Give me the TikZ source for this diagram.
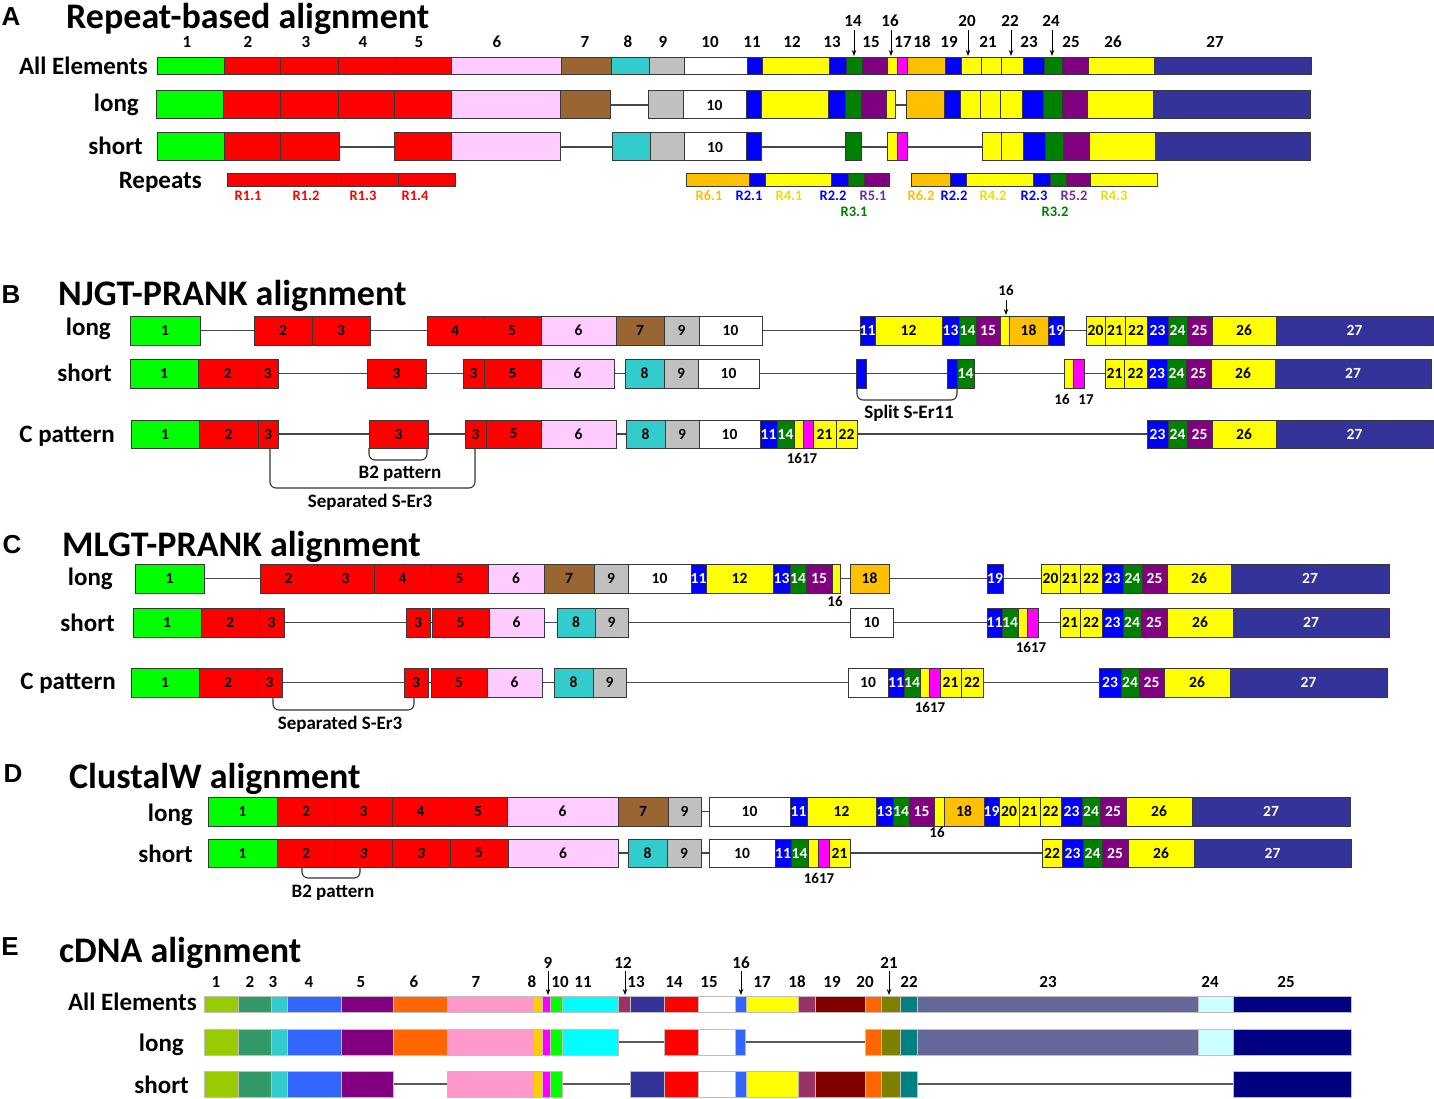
\documentclass[tikz,border=0pt]{standalone}
\usepackage{fontspec}
\setmainfont{Carlito}
\newfontfamily\letterfont{Liberation Sans}
\usetikzlibrary{arrows.meta}
\definecolor{cgreen}{HTML}{00FF00}
\definecolor{cred}{HTML}{FF0000}
\definecolor{cpink}{HTML}{FFCCFF}
\definecolor{cbrown}{HTML}{996633}
\definecolor{ccyan}{HTML}{33CCCC}
\definecolor{cgray}{HTML}{C0C0C0}
\definecolor{cblue}{HTML}{0000FF}
\definecolor{cyel}{HTML}{FFFF00}
\definecolor{cdg}{HTML}{008000}
\definecolor{cpur}{HTML}{800080}
\definecolor{cmag}{HTML}{FF00FF}
\definecolor{corg}{HTML}{FFC000}
\definecolor{cnavy}{HTML}{333399}
\definecolor{rorg}{HTML}{FFC000}
\definecolor{ryel}{HTML}{EEDD00}
\definecolor{rpur}{HTML}{7030A0}
\definecolor{eA}{HTML}{99CC00}
\definecolor{eB}{HTML}{339966}
\definecolor{eC}{HTML}{33CCCC}
\definecolor{eD}{HTML}{3366FF}
\definecolor{eE}{HTML}{800080}
\definecolor{eF}{HTML}{FF6600}
\definecolor{eG}{HTML}{FF99CC}
\definecolor{eH}{HTML}{FFCC00}
\definecolor{eI}{HTML}{FF00FF}
\definecolor{eJ}{HTML}{00FF00}
\definecolor{eK}{HTML}{00FFFF}
\definecolor{eL}{HTML}{993366}
\definecolor{eM}{HTML}{333399}
\definecolor{eN}{HTML}{FF0000}
\definecolor{eO}{HTML}{FFFFFF}
\definecolor{eP}{HTML}{3366FF}
\definecolor{eQ}{HTML}{FFFF00}
\definecolor{eR}{HTML}{993366}
\definecolor{eS}{HTML}{800000}
\definecolor{eT}{HTML}{FF6600}
\definecolor{eU}{HTML}{808000}
\definecolor{eV}{HTML}{008080}
\definecolor{eW}{HTML}{666699}
\definecolor{eX}{HTML}{CCFFFF}
\definecolor{eY}{HTML}{000080}
\tikzset{
  seg/.style={draw=black!78, line width=1pt},
  eseg/.style={draw=black!25, line width=0.7pt},
  conn/.style={draw=black!72, line width=1.1pt},
  econn/.style={draw=black!65, line width=1.8pt},
  lab/.style={font=\fontsize{15.5}{15.5}\selectfont\bfseries, inner sep=0pt},
  title/.style={font=\fontsize{36}{36}\selectfont\bfseries, inner sep=0pt, anchor=base west},
  rowlab/.style={font=\fontsize{25}{25}\selectfont\bfseries, inner sep=0pt, anchor=base east},
  num/.style={font=\fontsize{17}{17}\selectfont\bfseries, inner sep=0pt, anchor=base},
  rlab/.style={font=\fontsize{14.5}{14.5}\selectfont\bfseries, inner sep=0pt, anchor=base},
  slab/.style={font=\fontsize{15}{15}\selectfont\bfseries, inner sep=0pt, anchor=base},
  blab/.style={font=\fontsize{19}{19}\selectfont\bfseries, inner sep=0pt, anchor=base},
  plet/.style={font=\fontsize{26}{26}\selectfont\letterfont\bfseries, inner sep=0pt},
  brk/.style={draw=black!80, line width=1.1pt, rounded corners=6pt},
  darr/.style={draw=black, line width=0.9pt, -{Stealth[length=6pt,width=4.5pt]}}
}
\newcommand\segrow[4]{%
  \foreach \xa/\xb/\cc/\ll/\tc in {#4}{%
    \path[#3, fill=\cc] ({\xa},{#1-#2}) rectangle ({\xb},{#1+#2});
    \node[lab, text=\tc] at ({(\xa+\xb)/2},{#1}) {\ll};
  }}
\newcommand\cn[3]{\draw[conn] ({#1},{#3}) -- ({#2},{#3});}
\newcommand\ecn[3]{\draw[econn] ({#1},{#3}) -- ({#2},{#3});}
\begin{document}
\begin{tikzpicture}[x=1pt,y=-1pt]
\useasboundingbox (0,0) rectangle (1434,1099);
\fill[white] (0,0) rectangle (1434,1099);

% ================= A =================
\node[plet] (letA) at (11,17) {A};
\node[title] (titA) at (66,29) {Repeat-based alignment};
\foreach \t/\x in {1/187,2/248,3/306,4/363,5/419,6/497,7/585,8/628,9/663,10/710,11/752,12/792,13/832,15/871,17/903,18/922,19/949,21/988,23/1029,25/1071,26/1113,27/1215}
  \node[num] at (\x,48) {\t};
\foreach \t/\x in {14/853,16/890,20/967,22/1010,24/1051}{
  \node[num] at (\x,27) {\t};
  \draw[darr] (\x+1,30) -- (\x+1,56);
}
\node[rowlab] (aAll) at (148,75) {All Elements};
\node[rowlab] (aLong) at (139,112) {long};
\node[rowlab] (aShort) at (143,155) {short};
\node[rowlab] (aRep) at (202,189) {Repeats};

\segrow{66.5}{8.5}{seg}{157/224/cgreen//black, 224/280/cred//black, 280/338/cred//black, 338/395/cred//black, 395/451/cred//black, 451/561/cpink//black, 561/611/cbrown//black, 611/649/ccyan//black, 649/684/cgray//black, 684/747/white//black, 747/762/cblue//black, 762/829/cyel//black, 829/846/cblue//black, 846/862/cdg//black, 862/887/cpur//black, 887/897/cyel//black, 897/907/cmag//black, 907/945/corg//black, 945/961/cblue//black, 961/981/cyel//black, 981/1001/cyel//black, 1001/1023/cyel//black, 1023/1044/cblue//black, 1044/1062/cdg//black, 1062/1088/cpur//black, 1088/1154/cyel//black, 1154/1311/cnavy//black}

\cn{610}{648}{105}\cn{895}{906}{105}
\segrow{105}{14}{seg}{156/223/cgreen//black, 223/280/cred//black, 280/338/cred//black, 338/394/cred//black, 394/451/cred//black, 451/560/cpink//black, 560/610/cbrown//black, 648/683/cgray//black, 683/746/white/10/black, 746/761/cblue//black, 761/828/cyel//black, 828/845/cblue//black, 845/861/cdg//black, 861/886/cpur//black, 886/895/cyel//black, 906/944/corg//black, 944/960/cblue//black, 960/980/cyel//black, 980/1000/cyel//black, 1000/1022/cyel//black, 1022/1043/cblue//black, 1043/1062/cdg//black, 1062/1087/cpur//black, 1087/1153/cyel//black, 1153/1310/cnavy//black}

\cn{339}{394}{147}\cn{560}{612}{147}\cn{761}{845}{147}\cn{861}{887}{147}\cn{907}{982}{147}
\segrow{147}{14}{seg}{157/224/cgreen//black, 224/280/cred//black, 280/339/cred//black, 394/451/cred//black, 451/560/cpink//black, 612/650/ccyan//black, 650/684/cgray//black, 684/746/white/10/black, 746/761/cblue//black, 845/861/cdg//black, 887/897/cyel//black, 897/907/cmag//black, 982/1001/cyel//black, 1001/1023/cyel//black, 1023/1045/cblue//black, 1045/1063/cdg//black, 1063/1089/cpur//black, 1089/1155/cyel//black, 1155/1310/cnavy//black}

\segrow{180.5}{6.5}{seg}{227/283/cred//black, 283/341/cred//black, 341/398/cred//black, 398/455/cred//black, 686/749/corg//black, 749/765/cblue//black, 765/831/cyel//black, 831/848/cblue//black, 848/864/cdg//black, 864/889/cpur//black, 911/950/corg//black, 950/966/cblue//black, 966/1033/cyel//black, 1033/1050/cblue//black, 1050/1066/cdg//black, 1066/1090/cpur//black, 1090/1157/cyel//black}
\foreach \t/\x/\c in {R1.1/248/cred, R1.2/306/cred, R1.3/363/cred, R1.4/415/cred, R6.1/709/rorg, R2.1/749/cblue, R4.1/789/ryel, R2.2/833/cblue, R5.1/873/rpur, R6.2/921/rorg, R2.2/954/cblue, R4.2/993/ryel, R2.3/1034/cblue, R5.2/1074/rpur, R4.3/1114/ryel}
  \node[rlab, text=\c] at (\x,201) {\t};
\node[rlab, text=cdg] at (854,217) {R3.1};
\node[rlab, text=cdg] at (1055,217) {R3.2};

% ================= B =================
\node[plet] (letB) at (11,295) {B};
\node[title] (titB) at (58,305) {NJGT-PRANK alignment};
\node[rowlab] (bLong) at (111,335) {long};
\node[rowlab] (bShort) at (112,381) {short};
\node[rowlab] (bC) at (115,442) {C pattern};

\cn{200}{254}{330.5}\cn{370}{427}{330.5}\cn{762}{860}{330.5}\cn{1064}{1086}{330.5}
\segrow{330.5}{14.5}{seg}{130/200/cgreen/1/black, 254/312/cred/2/black, 312/370/cred/3/black, 427/483/cred/4/black, 483/541/cred/5/black, 541/616/cpink/6/black, 616/664/cbrown/7/black, 664/699/cgray/9/black, 699/762/white/10/black, 860/875/cblue/11/white, 875/942/cyel/12/black, 942/959/cblue/13/white, 959/976/cdg/14/white, 976/1000/cpur/15/white, 1000/1009/cyel//black, 1009/1048/corg/18/black, 1048/1064/cblue/19/white, 1086/1105/cyel/20/black, 1105/1125/cyel/21/black, 1125/1147/cyel/22/black, 1147/1168/cblue/23/white, 1168/1187/cdg/24/white, 1187/1212/cpur/25/white, 1212/1276/cyel/26/black, 1276/1433/cnavy/27/white}
\node[slab] at (1006,295) {16};
\draw[darr] (1006,300) -- (1006,315);

\cn{278}{367}{373.5}\cn{426}{463}{373.5}\cn{614}{625}{373.5}\cn{759}{856}{373.5}\cn{866}{947}{373.5}\cn{974}{1064}{373.5}\cn{1084}{1105}{373.5}
\segrow{373.5}{14.5}{seg}{130/198/cgreen/1/black, 198/257/cred/2/black, 257/278/cred/3/black, 367/426/cred/3/black, 463/484/cred/3/black, 484/541/cred/5/black, 541/614/cpink/6/black, 625/664/ccyan/8/black, 664/698/cgray/9/black, 698/759/white/10/black, 856/866/cblue//black, 947/957/cblue//black, 957/974/cdg/14/white, 1064/1073/cyel//black, 1073/1084/cmag//black, 1105/1124/cyel/21/black, 1124/1147/cyel/22/black, 1147/1167/cblue/23/white, 1167/1186/cdg/24/white, 1186/1211/cpur/25/white, 1211/1275/cyel/26/black, 1275/1431/cnavy/27/white}
\node[slab] at (1062,404) {16};
\node[slab] at (1086,404) {17};
\draw[brk] (857,388) -- (857,400) -- (957,400) -- (957,388);
\node[blab] at (909,418) {Split S-Er11};

\cn{278}{369}{434}\cn{428}{465}{434}\cn{616}{626}{434}\cn{857}{1147}{434}
\segrow{434}{14}{seg}{131/199/cgreen/1/black, 199/258/cred/2/black, 258/278/cred/3/black, 369/428/cred/3/black, 465/486/cred/3/black, 486/541/cred/5/black, 541/616/cpink/6/black, 626/665/ccyan/8/black, 665/699/cgray/9/black, 699/760/white/10/black, 760/777/cblue/11/white, 777/794/cdg/14/white, 794/803/cyel//black, 803/813/cmag//black, 813/836/cyel/21/black, 836/857/cyel/22/black, 1147/1168/cblue/23/white, 1168/1187/cdg/24/white, 1187/1212/cpur/25/white, 1212/1276/cyel/26/black, 1276/1433/cnavy/27/white}
\node[slab] at (802,463) {1617};
\draw[brk] (369,448) -- (369,460) -- (427,460) -- (427,448);
\node[blab] at (400,478) {B2 pattern};
\draw[brk] (270,448) -- (270,488) -- (475,488) -- (475,448);
\node[blab] at (370,507) {Separated S-Er3};

% ================= C =================
\node[plet] (letC) at (12,545) {C};
\node[title] (titC) at (62,556) {MLGT-PRANK alignment};
\node[rowlab] (cLong) at (113,585) {long};
\node[rowlab] (cShort) at (115,631) {short};
\node[rowlab] (cC) at (116,689) {C pattern};

\cn{204}{260}{578.5}\cn{840}{850}{578.5}\cn{889}{987}{578.5}\cn{1003}{1041}{578.5}
\segrow{578.5}{14.5}{seg}{135/204/cgreen/1/black, 260/317/cred/2/black, 317/374/cred/3/black, 374/431/cred/4/black, 431/488/cred/5/black, 488/544/cpink/6/black, 544/594/cbrown/7/black, 594/628/cgray/9/black, 628/691/white/10/black, 691/706/cblue/11/white, 706/773/cyel/12/black, 773/790/cblue/13/white, 790/806/cdg/14/white, 806/832/cpur/15/white, 832/840/cyel//black, 850/889/corg/18/black, 987/1003/cblue/19/white, 1041/1060/cyel/20/black, 1060/1080/cyel/21/black, 1080/1102/cyel/22/black, 1102/1123/cblue/23/white, 1123/1142/cdg/24/white, 1142/1167/cpur/25/white, 1167/1231/cyel/26/black, 1231/1389/cnavy/27/white}
\node[slab] at (835,606) {16};

\cn{284}{406}{622.5}\cn{430}{432}{622.5}\cn{544}{557}{622.5}\cn{628}{850}{622.5}\cn{893}{987}{622.5}\cn{1038}{1060}{622.5}
\segrow{622.5}{14.5}{seg}{133/201/cgreen/1/black, 201/259/cred/2/black, 259/284/cred/3/black, 406/430/cred/3/black, 432/489/cred/5/black, 489/544/cpink/6/black, 557/595/ccyan/8/black, 595/628/cgray/9/black, 850/893/white/10/black, 987/1002/cblue/11/white, 1002/1018/cdg/14/white, 1018/1027/cyel//black, 1027/1038/cmag//black, 1060/1080/cyel/21/black, 1080/1102/cyel/22/black, 1102/1123/cblue/23/white, 1123/1141/cdg/24/white, 1141/1167/cpur/25/white, 1167/1233/cyel/26/black, 1233/1389/cnavy/27/white}
\node[slab] at (1031,652) {1617};

\cn{282}{404}{682.5}\cn{428}{431}{682.5}\cn{542}{554}{682.5}\cn{626}{848}{682.5}\cn{983}{1099}{682.5}
\segrow{682.5}{14.5}{seg}{131/199/cgreen/1/black, 199/257/cred/2/black, 257/282/cred/3/black, 404/428/cred/3/black, 431/487/cred/5/black, 487/542/cpink/6/black, 554/593/ccyan/8/black, 593/626/cgray/9/black, 848/888/white/10/black, 888/904/cblue/11/white, 904/920/cdg/14/white, 920/929/cyel//black, 929/940/cmag//black, 940/961/cyel/21/black, 961/983/cyel/22/black, 1099/1121/cblue/23/white, 1121/1139/cdg/24/white, 1139/1164/cpur/25/white, 1164/1230/cyel/26/black, 1230/1387/cnavy/27/white}
\node[slab] at (930,712) {1617};
\draw[brk] (273,697) -- (273,710) -- (414,710) -- (414,697);
\node[blab] at (340,729) {Separated S-Er3};

% ================= D =================
\node[plet] (letD) at (13,774) {D};
\node[title] (titD) at (69,788) {ClustalW alignment};
\node[rowlab] (dLong) at (193,821) {long};
\node[rowlab] (dShort) at (193,862) {short};

\cn{701}{709}{811.5}
\segrow{811.5}{14.5}{seg}{208/277/cgreen/1/black, 277/335/cred/2/black, 335/392/cred/3/black, 392/449/cred/4/black, 449/507/cred/5/black, 507/618/cpink/6/black, 618/668/cbrown/7/black, 668/701/cgray/9/black, 709/790/white/10/black, 790/807/cblue/11/white, 807/876/cyel/12/black, 876/893/cblue/13/white, 893/909/cdg/14/white, 909/934/cpur/15/white, 934/944/cyel//black, 944/984/corg/18/black, 984/999/cblue/19/white, 999/1019/cyel/20/black, 1019/1040/cyel/21/black, 1040/1061/cyel/22/black, 1061/1082/cblue/23/white, 1082/1100/cdg/24/white, 1100/1126/cpur/25/white, 1126/1192/cyel/26/black, 1192/1350/cnavy/27/white}
\node[slab] at (937,837) {16};

\cn{618}{628}{853}\cn{701}{709}{853}\cn{850}{1042}{853}
\segrow{853}{14}{seg}{208/277/cgreen/1/black, 277/335/cred/2/black, 335/392/cred/{\itshape 3}/black, 392/450/cred/{\itshape 3}/black, 450/508/cred/5/black, 508/618/cpink/6/black, 628/667/ccyan/8/black, 667/701/cgray/9/black, 709/775/white/10/black, 775/791/cblue/11/white, 791/808/cdg/14/white, 808/818/cyel//black, 818/829/cmag//black, 829/850/cyel/21/black, 1042/1062/cyel/22/black, 1062/1083/cblue/23/white, 1083/1102/cdg/24/white, 1102/1128/cpur/25/white, 1128/1194/cyel/26/black, 1194/1351/cnavy/27/white}
\node[slab] at (819,883) {1617};
\draw[brk] (302,867) -- (302,878) -- (360,878) -- (360,867);
\node[blab] at (333,897) {B2 pattern};

% ================= E =================
\node[plet] (letE) at (10,947) {E};
\node[title] (titE) at (59,962) {cDNA alignment};
\foreach \t/\x in {1/216,2/250,3/273,4/309,5/361,6/414,7/476,8/532,10/560,11/583,13/636,14/674,15/709,17/762,18/797,19/832,20/865,22/909,23/1048,24/1210,25/1286}
  \node[num] at (\x,987) {\t};
\foreach \t/\x/\ax in {9/548/548,12/623/625,16/741/741,21/889/889}{
  \node[num] at (\x,968) {\t};
  \draw[darr] (\ax,971) -- (\ax,995);
}
\node[rowlab] (eAll) at (197,1010) {All Elements};
\node[rowlab] (eLong) at (184,1051) {long};
\node[rowlab] (eShort) at (189,1093) {short};

\segrow{1004}{8}{eseg}{204/238/eA//black, 238/271/eB//black, 271/287/eC//black, 287/341/eD//black, 341/393/eE//black, 393/447/eF//black, 447/533/eG//black, 533/542/eH//black, 542/550/eI//black, 550/562/eJ//black, 562/618/eK//black, 618/630/eL//black, 630/664/eM//black, 664/698/eN//black, 698/735/eO//black, 735/746/eP//black, 746/798/eQ//black, 798/815/eR//black, 815/865/eS//black, 865/881/eT//black, 881/900/eU//black, 900/917/eV//black, 917/1198/eW//black, 1198/1233/eX//black, 1233/1351/eY//black}

\ecn{618}{664}{1042}\ecn{745}{865}{1042}
\segrow{1042}{13}{eseg}{204/238/eA//black, 238/271/eB//black, 271/287/eC//black, 287/341/eD//black, 341/393/eE//black, 393/447/eF//black, 447/533/eG//black, 533/542/eH//black, 542/550/eI//black, 550/562/eJ//black, 562/618/eK//black, 664/698/eN//black, 698/735/eO//black, 735/745/eP//black, 865/881/eT//black, 881/900/eU//black, 900/917/eV//black, 917/1198/eW//black, 1198/1233/eX//black, 1233/1351/eY//black}

\ecn{393}{447}{1084}\ecn{562}{630}{1084}\ecn{917}{1233}{1084}
\segrow{1084}{13}{eseg}{204/238/eA//black, 238/271/eB//black, 271/287/eC//black, 287/341/eD//black, 341/393/eE//black, 447/533/eG//black, 533/542/eH//black, 542/550/eI//black, 550/562/eJ//black, 630/664/eM//black, 664/698/eN//black, 698/735/eO//black, 735/746/eP//black, 746/798/eQ//black, 798/815/eR//black, 815/865/eS//black, 865/881/eT//black, 881/900/eU//black, 900/917/eV//black, 1233/1351/eY//black}
\end{tikzpicture}
\end{document}
